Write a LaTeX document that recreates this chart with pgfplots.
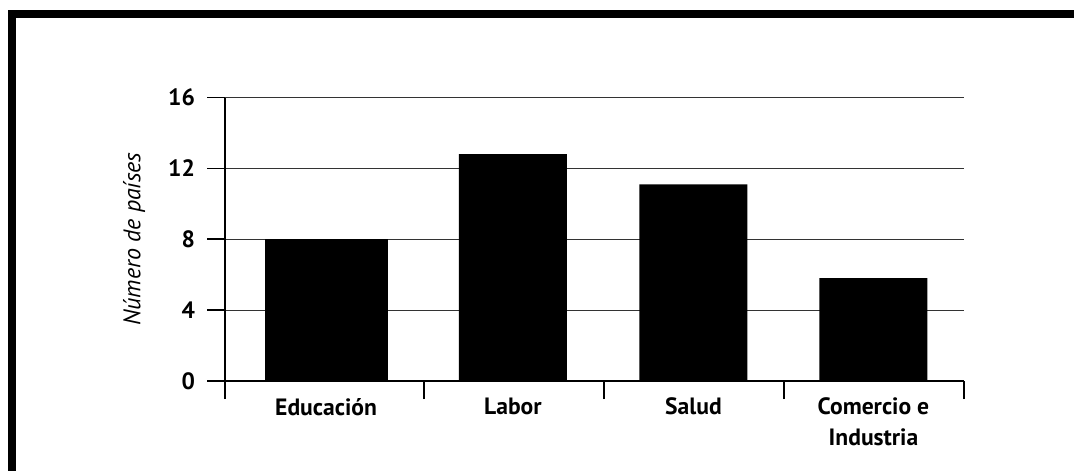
\documentclass[border=0pt]{standalone}
\usepackage{pgfplots}
\pgfplotsset{compat=1.18}
\usepackage{fontspec}
\setmainfont{PT Sans}
\begin{document}
\begin{tikzpicture}[x=1pt,y=1pt]
\useasboundingbox (0,0) rectangle (537,235.5);
\fill[black] (4,230.5) rectangle (537,226.5);
\fill[black] (4,230.5) rectangle (8,0);
\begin{axis}[
  at={(112.5pt,45pt)}, anchor=south west,
  scale only axis, width=369.5pt, height=141.75pt,
  xmin=-0.6056, xmax=3.5, ymin=0, ymax=16,
  axis x line*=bottom, axis y line*=left,
  tick align=outside,
  major tick length=9pt,
  axis line style={line width=0.8pt,-},
  tick style={line width=0.8pt,black},
  ymajorgrids,
  grid style={line width=0.6pt,color=black!80},
  ytick={0,4,8,12,16},
  xtick={-0.6056,0.5,1.5,2.5,3.5},
  xticklabels={},
  extra x ticks={-0.044,0.994,1.997,2.997},
  extra x tick labels={Educación,Labor,Salud,{Comercio e\\Industria}},
  extra x tick style={major tick length=0pt, tick style={draw=none},
     xticklabel style={align=center, yshift=-5pt}},
  every tick label/.append style={font=\fontsize{11.8pt}{15.5pt}\selectfont\bfseries},
  yticklabel style={xshift=-2.5pt},
  /pgf/number format/assume math mode=true,
  ylabel={Número de países},
  ylabel style={at={(axis description cs:-0.1231,0.5)}, anchor=center,
     font=\fontsize{12pt}{13pt}\selectfont\itshape},
]
\addplot[ybar, bar width=0.683, fill=black, draw=none] coordinates {(-0.044,8)};
\addplot[ybar, bar width=0.6, fill=black, draw=none] coordinates {(0.994,12.8) (1.997,11.1) (2.997,5.8)};
\end{axis}
\end{tikzpicture}
\end{document}
